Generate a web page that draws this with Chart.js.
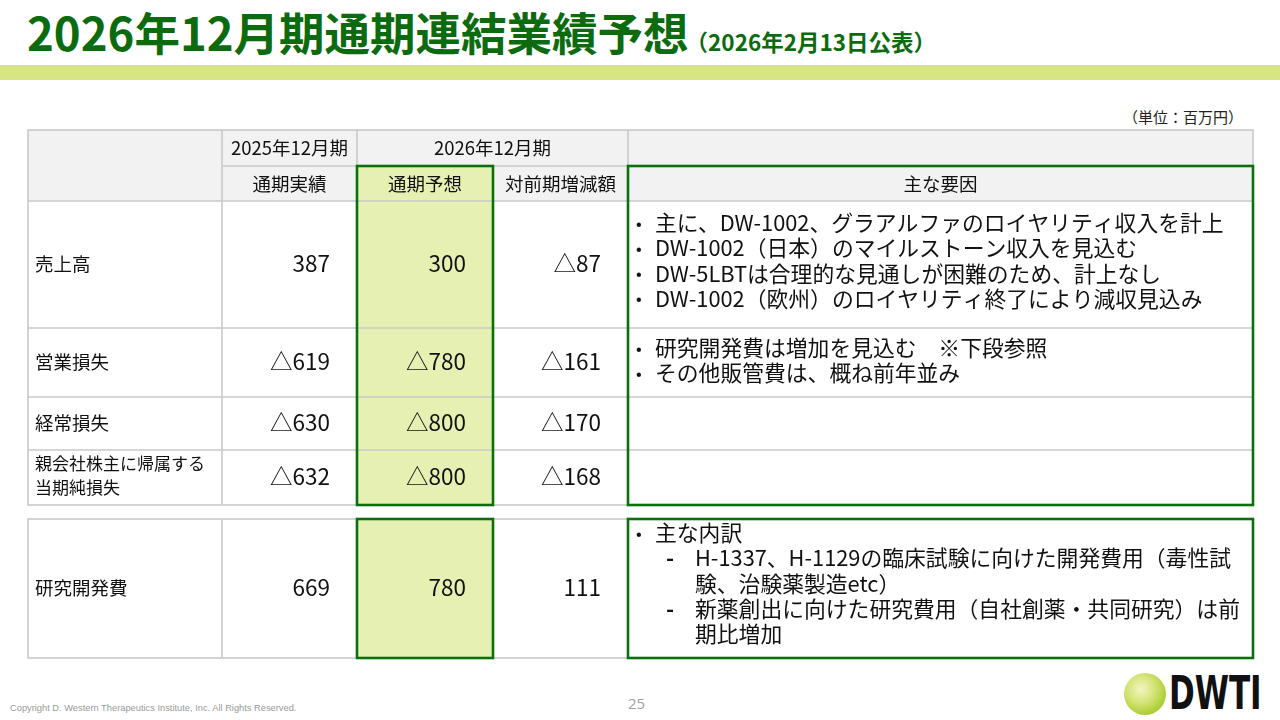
<!DOCTYPE html>
<html lang="ja">
<head>
<meta charset="utf-8">
<script src="https://cdn.jsdelivr.net/npm/chart.js@4.4.1/dist/chart.umd.min.js"></script>
<style>
  body { margin: 0; width: 1280px; height: 720px; position: relative; overflow: hidden; background: #fff; font-family: "Noto Sans CJK JP", sans-serif; }
  .title { position: absolute; left: 27px; top: 8px; line-height: 46px; font-size: 45.5px; font-weight: bold; color: #0b6b0e; white-space: nowrap; }
  .title span { font-size: 22.5px; margin-left: -3px; }
  .band { position: absolute; left: 0; top: 65px; width: 1280px; height: 15px; background: #d8e585; }
  .unit { position: absolute; right: 37px; top: 106px; font-size: 15px; color: #222; }
  .wrap { position: absolute; left: 26px; top: 128px; width: 1229px; height: 532px; }
  .copy { position: absolute; left: 10px; top: 703px; font-family: "Liberation Sans", Arial, sans-serif; font-size: 9.3px; color: #999; }
  .page { position: absolute; left: 628px; top: 693px; font-size: 15px; color: #a0a0a0; font-family: "Open Sans", sans-serif; }
  .ball { position: absolute; left: 1124px; top: 673px; width: 42px; height: 42px; border-radius: 50%;
          background: radial-gradient(circle at 40% 38%, #f1f5c4 0%, #d7e67c 35%, #a9cb2c 75%, #86ad18 100%); }
  .logo { position: absolute; left: 1169px; top: 667px; font-family: "DejaVu Sans", sans-serif; font-weight: bold; font-size: 47px; line-height: 52px; color: #111;
          transform: scaleX(0.66); transform-origin: left top; white-space: nowrap; }
</style>
</head>
<body>
<div class="title">2026年12月期通期連結業績予想<span>（2026年2月13日公表）</span></div>
<div class="band"></div>
<div class="unit">（単位：百万円）</div>
<div class="wrap"><canvas id="tbl" width="1229" height="532"></canvas></div>
<div class="copy">Copyright D. Western Therapeutics Institute, Inc. All Rights Reserved.</div>
<div class="page">25</div>
<div class="ball"></div>
<div class="logo">DWTI</div>
<script>
// table values (百万円), negative = △
const items = ['売上高', '営業損失', '経常損失', '親会社株主に帰属する|当期純損失', '研究開発費'];
const actual2025 = [387, -619, -630, -632, 669];
const forecast2026 = [300, -780, -800, -800, 780];
const changeYoY = [-87, -161, -170, -168, 111];

const periodLabels = ['2025年12月期', '2026年12月期'];
const columnLabels = ['通期実績', '通期予想', '対前期増減額', '主な要因'];

// reason lines: [level, text]  0 = bullet, 1 = dash, 2 = continuation
const reasonsSales = [
  [0, '主に、DW-1002、グラアルファのロイヤリティ収入を計上'],
  [0, 'DW-1002（日本）のマイルストーン収入を見込む'],
  [0, 'DW-5LBTは合理的な見通しが困難のため、計上なし'],
  [0, 'DW-1002（欧州）のロイヤリティ終了により減収見込み']
];
const reasonsOpLoss = [
  [0, '研究開発費は増加を見込む　※下段参照'],
  [0, 'その他販管費は、概ね前年並み']
];
const reasonsRnd = [
  [0, '主な内訳'],
  [1, 'H-1337、H-1129の臨床試験に向けた開発費用（毒性試'],
  [2, '験、治験薬製造etc）'],
  [1, '新薬創出に向けた研究費用（自社創薬・共同研究）は前'],
  [2, '期比増加']
];
const reasons = [reasonsSales, reasonsOpLoss, [], [], reasonsRnd];

// layout (slide pixels)
const colX = [28, 222, 357, 493, 628, 1253];
const headTop = 130, headMid = 166, headBottom = 201;
const itemRows = [[201, 328], [328, 397], [397, 450], [450, 505], [519, 658]];
const reasonTop = [22, 20, 0, 0, 14];
const numPad = 27;
const lineH = 25.2;

const FONT = '"Noto Sans CJK JP", sans-serif';
const GRID = '#c9c9c9';
const GREEN = '#0c6f0c';
const FILL = '#e6f0b3';

const fmt = v => v < 0 ? '△' + Math.abs(v) : String(v);
const rowMid = i => (itemRows[i][0] + itemRows[i][1]) / 2;

const valueSeries = [actual2025, forecast2026, changeYoY];
const datasets = valueSeries.map((vals, c) => ({
  label: columnLabels[c],
  data: vals.map((v, i) => ({ x: colX[c + 2] - numPad, y: rowMid(i) - 1, v: v })),
  pointRadius: 0,
  pointHoverRadius: 0
}));

const tablePlugin = {
  id: 'tableGrid',
  beforeDatasetsDraw(chart) {
    const ctx = chart.ctx;
    const px = v => chart.scales.x.getPixelForValue(v);
    const py = v => chart.scales.y.getPixelForValue(v);
    const rect = (x0, y0, x1, y1) => [px(x0), py(y0), px(x1) - px(x0), py(y1) - py(y0)];
    const line = (x0, y0, x1, y1) => { ctx.beginPath(); ctx.moveTo(px(x0), py(y0)); ctx.lineTo(px(x1), py(y1)); ctx.stroke(); };
    const b1 = itemRows[3][1];
    const t2 = itemRows[4][0], b2 = itemRows[4][1];

    ctx.save();
    // fills
    ctx.fillStyle = '#f2f2f2';
    ctx.fillRect(...rect(colX[0], headTop, colX[5], headBottom));
    ctx.fillStyle = FILL;
    ctx.fillRect(...rect(colX[2], headMid, colX[3], b1));
    ctx.fillRect(...rect(colX[2], t2, colX[3], b2));

    // grey grid
    ctx.strokeStyle = GRID;
    ctx.lineWidth = 1.6;
    ctx.strokeRect(...rect(colX[0], headTop, colX[5], b1));
    ctx.strokeRect(...rect(colX[0], t2, colX[5], b2));
    line(colX[1], headMid, colX[5], headMid);
    [headBottom, itemRows[1][0], itemRows[2][0], itemRows[3][0]].forEach(y => line(colX[0], y, colX[5], y));
    [1, 2, 4].forEach(c => line(colX[c], headTop, colX[c], b1));
    line(colX[3], headMid, colX[3], b1);
    [1, 2, 3, 4].forEach(c => line(colX[c], t2, colX[c], b2));

    // green frames
    ctx.strokeStyle = GREEN;
    ctx.lineWidth = 2.6;
    ctx.strokeRect(...rect(colX[2], headMid, colX[3], b1));
    ctx.strokeRect(...rect(colX[4], headMid, colX[5], b1));
    ctx.strokeRect(...rect(colX[2], t2, colX[3], b2));
    ctx.strokeRect(...rect(colX[4], t2, colX[5], b2));

    // header text
    ctx.fillStyle = '#111';
    ctx.textBaseline = 'middle';
    ctx.textAlign = 'center';
    ctx.font = '18.5px ' + FONT;
    const h1 = (headTop + headMid) / 2, h2 = (headMid + headBottom) / 2;
    ctx.fillText(periodLabels[0], px((colX[1] + colX[2]) / 2), py(h1));
    ctx.fillText(periodLabels[1], px((colX[2] + colX[4]) / 2), py(h1));
    columnLabels.forEach((lab, c) => ctx.fillText(lab, px((colX[c + 1] + colX[c + 2]) / 2), py(h2)));

    // row labels
    ctx.textAlign = 'left';
    items.forEach((lab, i) => {
      const parts = lab.split('|');
      if (parts.length === 1) {
        ctx.font = '18.5px ' + FONT;
        ctx.fillText(lab, px(colX[0] + 7), py(rowMid(i) - 1));
      } else {
        ctx.font = '17px ' + FONT;
        ctx.fillText(parts[0], px(colX[0] + 7), py(rowMid(i) - 14));
        ctx.fillText(parts[1], px(colX[0] + 7), py(rowMid(i) + 10));
      }
    });

    // reasons
    reasons.forEach((lines, i) => {
      lines.forEach((ln, k) => {
        const y = py(itemRows[i][0] + reasonTop[i] + k * lineH);
        const [lvl, txt] = ln;
        if (lvl === 0) {
          ctx.font = 'bold 15px ' + FONT;
          ctx.fillText('•', px(colX[4] + 8), y);
          ctx.font = '21.8px ' + FONT;
          ctx.fillText(txt, px(colX[4] + 27), y);
        } else {
          ctx.font = '21.8px ' + FONT;
          if (lvl === 1) {
            ctx.font = 'bold 21.8px ' + FONT;
            ctx.fillText('-', px(colX[4] + 38), y);
            ctx.font = '21.8px ' + FONT;
          }
          ctx.fillText(txt, px(colX[4] + 67), y);
        }
      });
    });
    ctx.restore();
  },
  afterDatasetsDraw(chart) {
    const ctx = chart.ctx;
    ctx.save();
    ctx.fillStyle = '#111';
    ctx.font = '22.5px ' + FONT;
    ctx.textAlign = 'right';
    ctx.textBaseline = 'middle';
    chart.data.datasets.forEach((ds, d) => {
      chart.getDatasetMeta(d).data.forEach((el, i) => {
        ctx.fillText(fmt(ds.data[i].v), el.x, el.y);
      });
    });
    ctx.restore();
  }
};

new Chart(document.getElementById('tbl'), {
  type: 'scatter',
  data: { datasets: datasets },
  options: {
    responsive: false,
    animation: false,
    events: [],
    layout: { padding: 2 },
    plugins: { legend: { display: false }, tooltip: { enabled: false } },
    scales: {
      x: { type: 'linear', display: false, min: colX[0], max: colX[5] },
      y: { type: 'linear', display: false, min: headTop, max: itemRows[4][1], reverse: true }
    }
  },
  plugins: [tablePlugin]
});
</script>
</body>
</html>
